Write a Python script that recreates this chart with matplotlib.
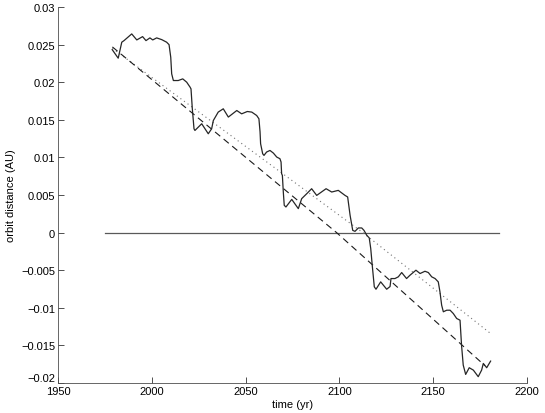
import matplotlib
matplotlib.use("Agg")
import matplotlib.pyplot as plt
from matplotlib.ticker import FuncFormatter

# orbit distance trace
years = [1978.9, 1982.1, 1984.0, 1985.2, 1989.3, 1992.0, 1995.1, 1996.9, 1999.0,
         2000.5, 2002.6, 2005.3, 2007.9, 2009.2, 2010.1, 2010.6, 2011.5, 2014.1,
         2016.5, 2018.6, 2020.4, 2020.9, 2021.6, 2022.5, 2023.0, 2026.6, 2030.1,
         2031.9, 2032.8, 2035.4, 2038.1, 2040.8, 2045.3, 2047.9, 2050.9, 2053.3,
         2055.9, 2057.1, 2057.7, 2058.0, 2059.1, 2059.8, 2061.2, 2063.0, 2064.8,
         2066.6, 2068.3, 2068.9, 2069.2, 2069.6, 2070.1, 2070.6, 2071.5, 2074.6,
         2078.1, 2079.9, 2082.6, 2085.2, 2087.9, 2092.9, 2095.9, 2099.4, 2103.0,
         2104.4, 2105.7, 2107.1, 2108.3, 2110.1, 2111.9, 2113.1, 2114.6, 2115.9,
         2116.7, 2117.5, 2118.6, 2119.5, 2122.0, 2125.2, 2127.0, 2127.5, 2129.6,
         2131.4, 2133.2, 2135.8, 2137.6, 2140.8, 2143.0, 2145.6, 2147.4, 2149.2,
         2151.0, 2152.7, 2153.6, 2154.5, 2155.4, 2157.2, 2159.0, 2160.7, 2162.5,
         2164.3, 2165.1, 2166.0, 2167.3, 2169.2, 2171.4, 2174.0, 2175.8, 2176.7,
         2178.5, 2180.6]
dist = [0.02434, 0.0232, 0.02533, 0.02554, 0.02643, 0.02563, 0.02607, 0.02554, 0.0259,
        0.02563, 0.0259, 0.02567, 0.02533, 0.0250, 0.02333, 0.02112, 0.02023, 0.02023,
        0.02045, 0.02001, 0.01935, 0.01912, 0.01647, 0.01381, 0.01359, 0.01448, 0.01315,
        0.01381, 0.01491, 0.01603, 0.01647, 0.01537, 0.01624, 0.0158, 0.01611, 0.01603,
        0.01558, 0.01514, 0.01341, 0.01182, 0.01049, 0.01027, 0.01072, 0.01093, 0.01058,
        0.01005, 0.00983, 0.00939, 0.00784, 0.00761, 0.0054, 0.00363, 0.00341, 0.00442,
        0.00319, 0.00452, 0.00518, 0.00584, 0.00495, 0.00584, 0.0054, 0.00562, 0.00495,
        0.00474, 0.0023, 0.0003, 0.00017, 0.00062, 0.00062, 0.0003, -0.00036, -0.0007,
        -0.00212, -0.00434, -0.00721, -0.00753, -0.00655, -0.00753, -0.00717, -0.00611, -0.00611,
        -0.00588, -0.00531, -0.00611, -0.00567, -0.005, -0.00544, -0.00514, -0.00531, -0.00588,
        -0.00611, -0.00655, -0.00788, -0.00965, -0.01053, -0.01032, -0.01032, -0.01076, -0.01142,
        -0.01165, -0.01497, -0.01762, -0.01886, -0.01797, -0.01829, -0.01916, -0.01829, -0.0174,
        -0.01797, -0.01709]

# trend curves (start, zero crossing, end)
dash_x = [1979.0, 2098.5, 2177.6]
dash_y = [0.0247, 0.0, -0.0177]
dot_x = [1979.0, 2112.5, 2181.0]
dot_y = [0.0245, 0.0, -0.0135]
zero_x = [1975, 2185]
zero_y = [0, 0]

xticks = [1950, 2000, 2050, 2100, 2150, 2200]
yticks = [-0.02, -0.015, -0.01, -0.005, 0, 0.005, 0.01, 0.015, 0.02, 0.025, 0.03]

plt.rcParams['font.family'] = ['Liberation Sans', 'DejaVu Sans']
plt.rcParams['font.size'] = 8

fig = plt.figure(figsize=(5.45, 4.14), dpi=100)
ax = fig.add_axes([0.1064, 0.0725, 0.8606, 0.908])

ax.plot(zero_x, zero_y, color='0.35', lw=0.9)
ax.plot(dot_x, dot_y, color='0.45', lw=0.8, linestyle=(0, (1, 3)))
ax.plot(dash_x, dash_y, color='0.1', lw=0.8, linestyle=(0, (6, 4)))
ax.plot(years, dist, color='0.15', lw=0.9)

ax.set_xlim(1950, 2200)
ax.set_ylim(-0.02, 0.03)
ax.set_xticks(xticks)
ax.set_yticks(yticks)
ax.yaxis.set_major_formatter(FuncFormatter(lambda v, p: f"{v:g}".replace('-', '\u2212')))
ax.tick_params(direction='in', length=4, width=0.6, colors='0.2', labelcolor='black', pad=2)
for side in ['top', 'right']:
    ax.spines[side].set_visible(False)
for side in ['left', 'bottom']:
    ax.spines[side].set_linewidth(0.6)
    ax.spines[side].set_color('0.3')

ax.set_xlabel("time (yr)", labelpad=2)
ax.set_ylabel("orbit distance (AU)", labelpad=4)

# lowest y label sits above the tick, clear of the 1950 label
fig.canvas.draw()
ax.get_yticklabels()[0].set_verticalalignment('bottom')

fig.savefig("out.png", dpi=100)
